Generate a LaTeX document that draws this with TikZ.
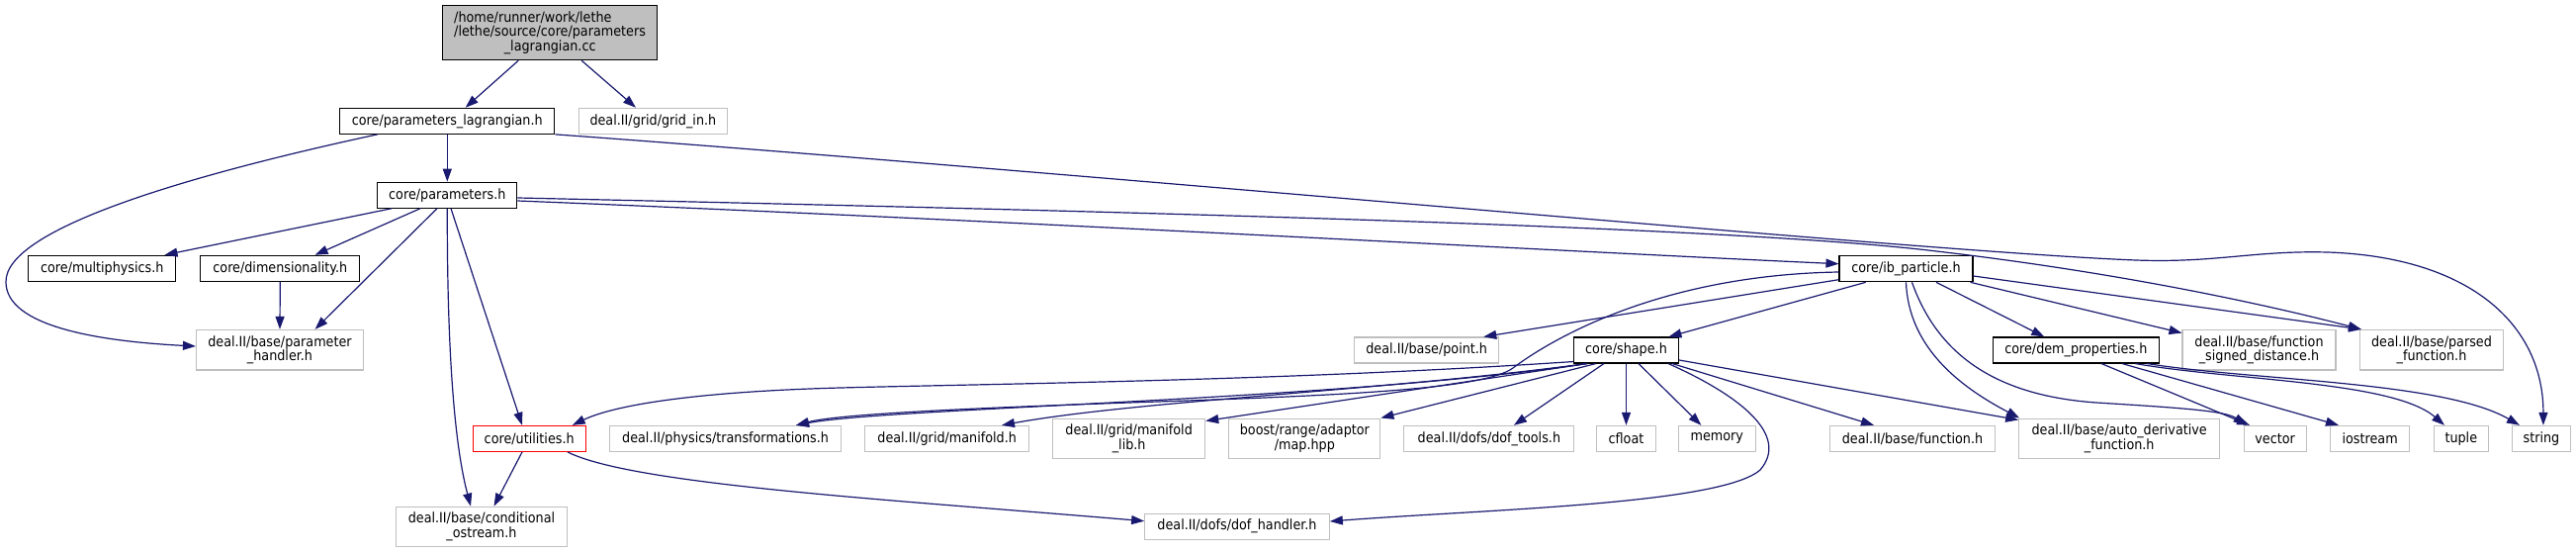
\documentclass[tikz,border=0pt]{standalone}
\usepackage{fontspec}
\setmainfont{DejaVu Sans Condensed}
\usetikzlibrary{arrows.meta,calc}
\definecolor{edgeblue}{HTML}{191970}
\definecolor{nodegray}{HTML}{BFBFBF}
\begin{document}
\begin{tikzpicture}[x=1pt,y=-1pt,
  box/.style={draw=black, line width=1.1pt, fill=white, inner sep=0pt, minimum height=26pt, align=center, font=\fontsize{14.2}{14.7}\selectfont},
  ext/.style={box, draw=nodegray},
  redbox/.style={box, draw=red},
  root/.style={box, fill=nodegray},
  two/.style={minimum height=40.5pt},
  edge/.style={draw=edgeblue, line width=1.2pt, -{Triangle[length=13pt,width=9pt]}}
]
\fill[white] (0,0) rectangle (2605,559);
\useasboundingbox (0,0) rectangle (2605,559);

% nodes
\node[root, minimum width=217pt, minimum height=55pt, text width=194pt, align=left] (top) at (556.2,33.2) {/home/runner/work/lethe\\/lethe/source/core/parameters\\\makebox[194pt]{\_lagrangian.cc}};
\node[box, minimum width=217pt] (pl) at (452.3,122.3) {core/parameters\_lagrangian.h};
\node[ext, minimum width=150pt] (gi) at (660.4,122.3) {deal.II/grid/grid\_in.h};
\node[box, minimum width=141pt] (p) at (452.3,197.2) {core/parameters.h};
\node[box, minimum width=149pt] (mp) at (103.3,271.3) {core/multiphysics.h};
\node[box, minimum width=161pt] (dim) at (283.3,271.3) {core/dimensionality.h};
\node[ext, two, minimum width=169pt] (ph) at (283,353.7) {deal.II/base/parameter\\\_handler.h};
\node[redbox, minimum width=114pt] (u) at (535.2,443.4) {core/utilities.h};
\node[ext, two, minimum width=173pt] (co) at (487,532.5) {deal.II/base/conditional\\\_ostream.h};
\node[box, minimum width=135pt] (ib) at (1927.5,271.8) {core/ib\_particle.h};
\node[ext, minimum width=146pt] (pt) at (1442.7,354) {deal.II/base/point.h};
\node[box, minimum width=106pt] (sh) at (1644.5,354) {core/shape.h};
\node[ext, minimum width=234pt] (tr) at (733.6,443.4) {deal.II/physics/transformations.h};
\node[ext, minimum width=166pt] (gm) at (957.7,443.4) {deal.II/grid/manifold.h};
\node[ext, two, minimum width=154pt] (ml) at (1141.7,443.3) {deal.II/grid/manifold\\\_lib.h};
\node[ext, two, minimum width=153pt] (bm) at (1319.4,443.3) {boost/range/adaptor\\/map.hpp};
\node[ext, minimum width=172pt] (dt) at (1505.9,443.4) {deal.II/dofs/dof\_tools.h};
\node[ext, minimum width=60pt] (cf) at (1644.5,443.4) {cfloat};
\node[ext, minimum width=78pt] (mem) at (1736.3,443.4) {memory};
\node[ext, minimum width=167pt] (fn) at (1934,443.4) {deal.II/base/function.h};
\node[ext, two, minimum width=203pt] (ad) at (2143.2,443.3) {deal.II/base/auto\_derivative\\\_function.h};
\node[ext, minimum width=63pt] (vec) at (2300.6,443.4) {vector};
\node[ext, minimum width=80pt] (ios) at (2396.6,443.4) {iostream};
\node[ext, minimum width=55pt] (tup) at (2488.8,443.4) {tuple};
\node[ext, minimum width=59pt] (str) at (2569.9,443.4) {string};
\node[box, minimum width=168.5pt] (dem) at (2099.3,354) {core/dem\_properties.h};
\node[ext, two, minimum width=155pt] (fsd) at (2284.5,353.7) {deal.II/base/function\\\_signed\_distance.h};
\node[ext, two, minimum width=145pt] (pf) at (2459,353.7) {deal.II/base/parsed\\\_function.h};
\node[ext, minimum width=186.6pt] (dh) at (1251,532.2) {deal.II/dofs/dof\_handler.h};

% edges from root
\draw[edge] ([xshift=-32pt]top.south) -- ([xshift=18.4pt]pl.north);
\draw[edge] ([xshift=32pt]top.south) -- ([xshift=-17.4pt]gi.north);
% parameters_lagrangian
\draw[edge] (pl.south) -- (p.north);
\draw[edge] ([xshift=-70.6pt]pl.south) .. controls (200,175) and (5,230) .. (6,285) .. controls (6,330) and (100,345) .. ([yshift=3.7pt]ph.west);
\draw[edge] (pl.south east) .. controls (1100,175) and (1950,255) .. (2160,263) .. controls (2240,266) and (2280,253) .. (2354,255) .. controls (2500,260) and (2572,330) .. ([xshift=2pt]str.north);
% parameters
\draw[edge] ([xshift=-56.3pt]p.south) -- ([xshift=63.2pt]mp.north);
\draw[edge] ([xshift=-27.3pt]p.south) -- ([xshift=35.3pt]dim.north);
\draw[edge] ([xshift=-10.3pt]p.south) -- ([xshift=35.6pt]ph.north);
\draw[edge] (p.south) .. controls (452,400) and (465,470) .. ([xshift=-11pt]co.north);
\draw[edge] ([xshift=3.7pt]p.south) -- ([xshift=-7.2pt]u.north);
\draw[edge] ([yshift=-5.8pt]p.east) .. controls (1000,222) and (1600,255) .. ([yshift=5.1pt]ib.west);
\draw[edge] ([yshift=-2.8pt]p.east) .. controls (1200,215) and (1750,230) .. (1950,253) .. controls (2150,276) and (2300,310) .. ([xshift=2pt]pf.north west);
% dimensionality
\draw[edge] (dim.south) -- (ph.north);
% utilities
\draw[edge] ([xshift=-7.2pt]u.south) -- ([xshift=12.5pt]co.north);
\draw[edge] ([xshift=38.8pt]u.south) .. controls (640,490) and (900,505) .. ([yshift=5.5pt]dh.west);
% ib_particle
\draw[edge] ([yshift=-3.2pt]ib.west) .. controls (1680,278) and (1570,342) .. (1530,372) .. controls (1500,394) and (1350,400) .. (1150,406.7) .. controls (1000,412) and (850,418) .. ([xshift=71.4pt]tr.north);
\draw[edge] ([yshift=-10.9pt]ib.west) -- ([xshift=-16pt]pt.north east);
\draw[edge] ([xshift=-40.8pt]ib.south) -- ([xshift=-10.6pt]sh.north east);
\draw[edge] (ib.south) .. controls (1930,350) and (1980,390) .. ([xshift=1pt]ad.north west);
\draw[edge] ([xshift=6pt]ib.south) .. controls (1960,360) and (2020,400) .. (2120,407) .. controls (2200,412) and (2250,415) .. ([xshift=3pt]vec.north west);
\draw[edge] ([xshift=30.5pt]ib.south) -- ([xshift=-32pt]dem.north);
\draw[edge] ([xshift=-3pt]ib.south east) -- ([yshift=-3.7pt]fsd.north west);
\draw[edge] ([yshift=-7.2pt]ib.east) -- ([xshift=2pt]pf.north west);
% shape
\draw[edge] ([yshift=2pt]sh.south west) .. controls (1300,385) and (1000,388) .. (850,392) .. controls (700,396) and (620,410) .. ([xshift=-14pt]u.north east);
\draw[edge] ([xshift=14pt]sh.south west) .. controls (1350,405) and (900,412) .. ([xshift=71.4pt]tr.north);
\draw[edge] ([xshift=14pt]sh.south west) .. controls (1400,395) and (1150,405) .. ([xshift=55.3pt]gm.north);
\draw[edge] ([xshift=14pt]sh.south west) -- ([yshift=-3pt]ml.north east);
\draw[edge] ([xshift=23pt]sh.south west) -- (bm.north east);
\draw[edge] ([xshift=31pt]sh.south west) -- ([xshift=25pt]dt.north);
\draw[edge] (sh.south) -- (cf.north);
\draw[edge] ([xshift=12.5pt]sh.south) -- ([xshift=-16pt]mem.north);
\draw[edge] ([xshift=-7pt]sh.south east) -- ([xshift=-39pt]fn.north);
\draw[edge] ([yshift=-10pt]sh.east) -- ([yshift=-2pt]ad.north west);
\draw[edge] ([xshift=-11pt]sh.south east) .. controls (1760,400) and (1810,440) .. (1780,475) .. controls (1740,510) and (1500,515) .. ([yshift=5.2pt]dh.east);
% dem_properties
\draw[edge] ([xshift=25.7pt]dem.south) -- ([xshift=-25.6pt]vec.north);
\draw[edge] ([xshift=46.7pt]dem.south) -- ([xshift=-31.6pt]ios.north);
\draw[edge] ([xshift=60pt]dem.south) .. controls (2260,385) and (2420,385) .. ([xshift=-16.8pt]tup.north);
\draw[edge] ([xshift=72pt]dem.south) .. controls (2280,385) and (2470,385) .. ([xshift=-22pt]str.north);
\end{tikzpicture}
\end{document}
